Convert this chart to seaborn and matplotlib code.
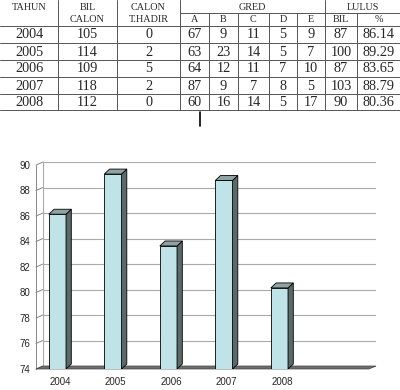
import numpy as np
import pandas as pd
import matplotlib.pyplot as plt
import seaborn as sns
from matplotlib.patches import Polygon

# data from the results table
years = ['2004', '2005', '2006', '2007', '2008']
bil_calon = [105, 114, 109, 118, 112]
tidak_hadir = [0, 2, 5, 2, 0]
gred_a = [67, 63, 64, 87, 60]
gred_b = [9, 23, 12, 9, 16]
gred_c = [11, 14, 11, 7, 14]
gred_d = [5, 5, 7, 8, 5]
gred_e = [9, 7, 10, 5, 17]
lulus_bil = [87, 100, 87, 103, 90]
lulus_pct = [86.14, 89.29, 83.65, 88.79, 80.36]
slots = years + ['']          # the chart keeps an empty sixth slot
y_ticks = [74, 76, 78, 80, 82, 84, 86, 88, 90]

sns.set_style('white')
plt.rcParams['font.family'] = ['Liberation Sans', 'DejaVu Sans']

fig = plt.figure(figsize=(4, 3.9), dpi=100)

# ---- table (pixel coordinates) ----
tab = fig.add_axes([0, 0, 1, 1])
tab.set_xlim(0, 400)
tab.set_ylim(390, 0)
tab.axis('off')
tab.patch.set_alpha(0)

col_edges = [0, 58, 117, 180, 209, 238, 269, 297, 325, 357, 400]
row_edges = [26, 43, 60, 77, 94, 110]
lc, lw = '#555555', 0.7
for x in [58, 117, 180, 325]:
    tab.plot([x, x], [0, 110], color=lc, lw=lw)
for x in [209, 238, 269, 297, 357]:
    tab.plot([x, x], [13, 110], color=lc, lw=lw)
tab.plot([180, 400], [13, 13], color=lc, lw=lw)
for y in row_edges:
    tab.plot([0, 400], [y, y], color=lc, lw=lw)

serif = ['Liberation Serif', 'DejaVu Serif']
hdr = dict(family=serif, fontsize=7.3, ha='center', va='center')
tab.text(29, 7, 'TAHUN', **hdr)
tab.text(87.5, 7, 'BIL', **hdr)
tab.text(87.5, 19.5, 'CALON', **hdr)
tab.text(148.5, 7, 'CALON', **hdr)
tab.text(148.5, 19.5, 'T.HADIR', **hdr)
tab.text(252.5, 7, 'GRED', **hdr)
tab.text(362.5, 7, 'LULUS', **hdr)
for i, lab in enumerate(['A', 'B', 'C', 'D', 'E', 'BIL', '%']):
    cx = (col_edges[i + 3] + col_edges[i + 4]) / 2
    tab.text(cx, 20, lab, **hdr)

columns = [years, bil_calon, tidak_hadir, gred_a, gred_b, gred_c, gred_d,
           gred_e, lulus_bil, ['%.2f' % v for v in lulus_pct]]
for c, vals in enumerate(columns):
    cx = (col_edges[c] + col_edges[c + 1]) / 2
    for r, v in enumerate(vals):
        cy = (row_edges[r] + row_edges[r + 1]) / 2 + 0.5
        tab.text(cx, cy, str(v), family=serif, fontsize=10.3,
                 ha='center', va='center')
tab.plot([200, 200], [112, 126], color='black', lw=1.2)

# ---- 3D-style bar chart ----
ax = fig.add_axes([43 / 400, 21 / 390, 333 / 400, 207 / 390])
df = pd.DataFrame({'tahun': years, 'lulus': lulus_pct})
sns.barplot(data=df, x='tahun', y='lulus', order=slots, width=0.31,
            color='#bfe3e6', saturation=1, edgecolor='black', linewidth=0.6,
            ax=ax, zorder=3)

xl, xr = -0.26, 5.74
dxw, dyw = 0.126, 0.235       # wall / floor depth
dx, dy = 0.095, 0.39          # bar depth
ax.set_xlim(xl, xr)
ax.set_ylim(74, 90 + dyw)
for s in ax.spines.values():
    s.set_visible(False)

# back wall gridlines sit one depth step behind the front plane
for v in y_ticks:
    ax.plot([xl, xr], [v + dyw, v + dyw], color='#aaaaaa', lw=0.8, zorder=1)
    ax.plot([xl - dxw, xl], [v, v + dyw], color='#888888', lw=0.7,
            clip_on=False, zorder=1)
ax.plot([xl, xl], [74 + dyw, 90 + dyw], color='#aaaaaa', lw=0.8, zorder=1)
ax.plot([xl - dxw, xl - dxw], [74, 90], color='#888888',
        lw=0.7, clip_on=False, zorder=1)
ax.add_patch(Polygon([(xl - dxw, 74), (xr - dxw, 74), (xr, 74 + dyw),
                      (xl, 74 + dyw)], closed=True, facecolor='#6e6e6e',
                     edgecolor='#444444', lw=0.5, clip_on=False, zorder=2))

for p in ax.patches[:]:
    if not hasattr(p, 'get_width') or p.get_width() > 1:
        continue
    x0, w, h = p.get_x(), p.get_width(), p.get_y() + p.get_height()
    x1 = x0 + w
    ax.add_patch(Polygon([(x1, 74), (x1 + dx, 74 + dy),
                          (x1 + dx, h + dy), (x1, h)], closed=True,
                         facecolor='#5a6a6a', edgecolor='black', lw=0.6,
                         zorder=3))
    ax.add_patch(Polygon([(x0, h), (x0 + dx, h + dy), (x1 + dx, h + dy),
                          (x1, h)], closed=True, facecolor='#8fa3a3',
                         edgecolor='black', lw=0.6, zorder=3))

ax.set_yticks(y_ticks)
ax.set_yticklabels([str(v) for v in y_ticks], fontsize=7)
ax.tick_params(axis='y', length=0, pad=9)
ax.set_xticks([i + 0.05 for i in range(len(slots))])
ax.set_xticklabels(slots, fontsize=7)
ax.tick_params(axis='x', which='major', length=0, pad=6)
ax.set_xticks([i + 0.68 for i in range(5)] + [xr - dxw], minor=True)
ax.tick_params(axis='x', which='minor', length=3, width=0.6,
               color='#666666', direction='out')
ax.set_xlabel('')
ax.set_ylabel('')

fig.savefig('out.png', dpi=100)
